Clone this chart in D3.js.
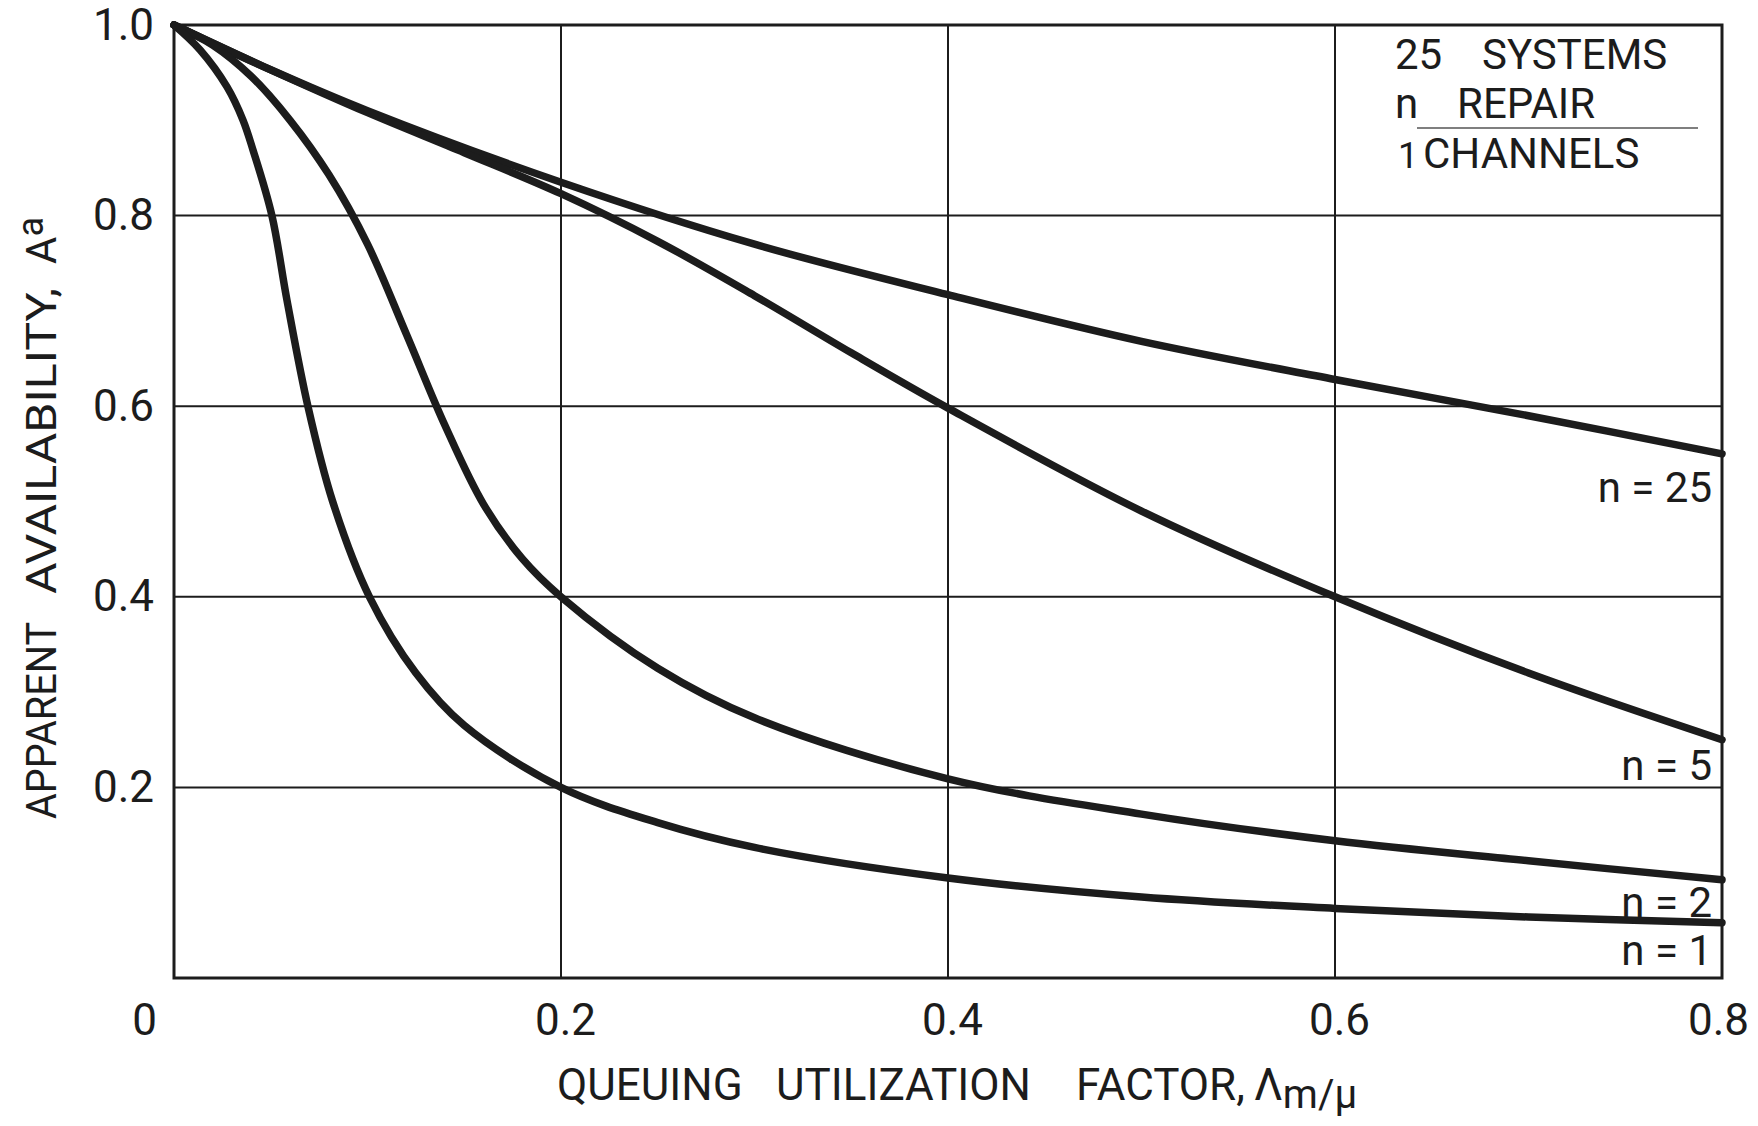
<!DOCTYPE html>
<html>
<head>
<meta charset="utf-8">
<script src="https://cdn.jsdelivr.net/npm/d3@7"></script>
<style>
  html, body { margin: 0; padding: 0; background: #fff; }
  svg { display: block; }
  text { font-family: Roboto, "Liberation Sans", sans-serif; fill: #1c1c1c; }
</style>
</head>
<body>
<svg id="chart" width="1758" height="1126"></svg>
<script>
// Queuing utilization factor (x) and apparent availability (y)
const xN25 = [0, 0.05, 0.1, 0.2, 0.3, 0.4, 0.5, 0.6, 0.7, 0.8];
const aN25 = [1.0, 0.953, 0.91, 0.835, 0.77, 0.717, 0.668, 0.628, 0.59, 0.55];

const xN5 = [0, 0.05, 0.1, 0.15, 0.2, 0.25, 0.3, 0.35, 0.4, 0.5, 0.6, 0.7, 0.8];
const aN5 = [1.0, 0.953, 0.908, 0.866, 0.823, 0.773, 0.716, 0.656, 0.598, 0.49, 0.40, 0.32, 0.25];

const xN2 = [0, 0.02, 0.04, 0.06, 0.08, 0.1, 0.12, 0.14, 0.16, 0.18, 0.2, 0.25, 0.3, 0.4, 0.5, 0.6, 0.7, 0.8];
const aN2 = [1.0, 0.979, 0.946, 0.90, 0.843, 0.77, 0.676, 0.58, 0.497, 0.44, 0.4, 0.325, 0.273, 0.209, 0.172, 0.144, 0.123, 0.103];

const xN1 = [0, 0.0134, 0.0274, 0.0357, 0.0408, 0.0506, 0.0584, 0.0693, 0.082, 0.101, 0.125, 0.15, 0.2, 0.25, 0.3, 0.4, 0.5, 0.6, 0.7, 0.8];
const aN1 = [1.0, 0.974, 0.935, 0.90, 0.869, 0.80, 0.711, 0.599, 0.50, 0.40, 0.32, 0.265, 0.2, 0.163, 0.137, 0.105, 0.085, 0.073, 0.064, 0.058];

const seriesNames = ['n = 25', 'n = 5', 'n = 2', 'n = 1'];
const xTicks = [0, 0.2, 0.4, 0.6, 0.8];
const yTicks = [0.2, 0.4, 0.6, 0.8, 1.0];
const legendWords = ['25', 'SYSTEMS', 'n', 'REPAIR', '1', 'CHANNELS'];

const svg = d3.select('#chart');
const ink = '#1c1c1c';

// plot frame in page pixels
const x = d3.scaleLinear().domain([0, 0.8]).range([174, 1722]);
const y = d3.scaleLinear().domain([0, 1]).range([978, 25]);

svg.append('rect').attr('width', 1758).attr('height', 1126).attr('fill', '#fff');

// grid lines
const grid = svg.append('g').attr('stroke', ink).attr('stroke-width', 2);
grid.selectAll('line.gx')
  .data(xTicks.filter(d => d > 0 && d < 0.8))
  .enter().append('line')
  .attr('x1', d => x(d)).attr('x2', d => x(d))
  .attr('y1', y(0)).attr('y2', y(1));
grid.selectAll('line.gy')
  .data(yTicks.filter(d => d < 1))
  .enter().append('line')
  .attr('x1', x(0)).attr('x2', x(0.8))
  .attr('y1', d => y(d)).attr('y2', d => y(d));

// outer frame
svg.append('rect')
  .attr('x', x(0)).attr('y', y(1))
  .attr('width', x(0.8) - x(0)).attr('height', y(0) - y(1))
  .attr('fill', 'none').attr('stroke', ink).attr('stroke-width', 3);

// curves
const series = [
  { name: seriesNames[0], xs: xN25, ys: aN25, labelY: 0.50 },
  { name: seriesNames[1], xs: xN5, ys: aN5, labelY: 0.208 },
  { name: seriesNames[2], xs: xN2, ys: aN2, labelY: 0.064 },
  { name: seriesNames[3], xs: xN1, ys: aN1, labelY: 0.014 }
];

const line = d3.line()
  .x(d => x(d[0]))
  .y(d => y(d[1]))
  .curve(d3.curveCatmullRom.alpha(0.5));

svg.append('g').selectAll('path')
  .data(series)
  .enter().append('path')
  .attr('d', s => line(s.xs.map((v, i) => [v, s.ys[i]])))
  .attr('fill', 'none')
  .attr('stroke', ink)
  .attr('stroke-width', 7.5)
  .attr('stroke-linecap', 'round')
  .attr('stroke-linejoin', 'round');

// curve labels at the right edge
svg.append('g').selectAll('text')
  .data(series)
  .enter().append('text')
  .attr('x', x(0.8) - 10)
  .attr('y', s => y(s.labelY))
  .attr('text-anchor', 'end')
  .attr('font-size', 42)
  .style('white-space', 'pre')
  .text(s => s.name);

// x axis labels
const xAxis = svg.append('g')
  .attr('transform', `translate(0,${y(0)})`)
  .call(d3.axisBottom(x).tickValues(xTicks).tickSize(0).tickPadding(26)
    .tickFormat(d => d === 0 ? '0' : d3.format('.1f')(d)));
xAxis.select('.domain').remove();
xAxis.selectAll('text')
  .attr('font-size', 44).attr('fill', ink).style('font-family', 'Roboto, sans-serif')
  .attr('dx', d => d === 0 ? -30 : d === 0.8 ? -4 : 4);

// y axis labels
const yAxis = svg.append('g')
  .attr('transform', `translate(${x(0)},0)`)
  .call(d3.axisLeft(y).tickValues(yTicks).tickSize(0).tickPadding(20)
    .tickFormat(d3.format('.1f')));
yAxis.select('.domain').remove();
yAxis.selectAll('text')
  .attr('font-size', 44).attr('fill', ink).style('font-family', 'Roboto, sans-serif');

// x axis title
const xt = svg.append('text').attr('y', 1100).attr('font-size', 44);
xt.append('tspan').attr('x', 557).text('QUEUING');
xt.append('tspan').attr('x', 776).text('UTILIZATION');
xt.append('tspan').attr('x', 1076).text('FACTOR,');
xt.append('tspan').attr('x', 1254).text('Λ');
xt.append('tspan').attr('dy', 8).attr('font-size', 40).text('m/μ');

// y axis title (rotated)
const yt = svg.append('text')
  .attr('transform', 'translate(56,0) rotate(-90)')
  .attr('font-size', 42);
yt.append('tspan').attr('x', -819).attr('textLength', 197).attr('lengthAdjust', 'spacingAndGlyphs').text('APPARENT');
yt.append('tspan').attr('x', -594).attr('textLength', 306).attr('lengthAdjust', 'spacingAndGlyphs').text('AVAILABILITY,');
yt.append('tspan').attr('x', -264).text('A');
yt.append('tspan').attr('dy', -13).attr('font-size', 36).text('a');

// legend words in the top right cell, one text per word
const legendPos = [[1395, 69], [1482, 69], [1395, 118], [1457, 118], [1398, 168], [1423, 168]];
svg.append('g').selectAll('text')
  .data(legendWords)
  .enter().append('text')
  .attr('x', (d, i) => legendPos[i][0])
  .attr('y', (d, i) => legendPos[i][1])
  .attr('font-size', (d, i) => i === 4 ? 36 : 42)
  .text(d => d);
svg.append('line')
  .attr('x1', 1417).attr('x2', 1698).attr('y1', 128).attr('y2', 128)
  .attr('stroke', '#555').attr('stroke-width', 1.5);
</script>
</body>
</html>
